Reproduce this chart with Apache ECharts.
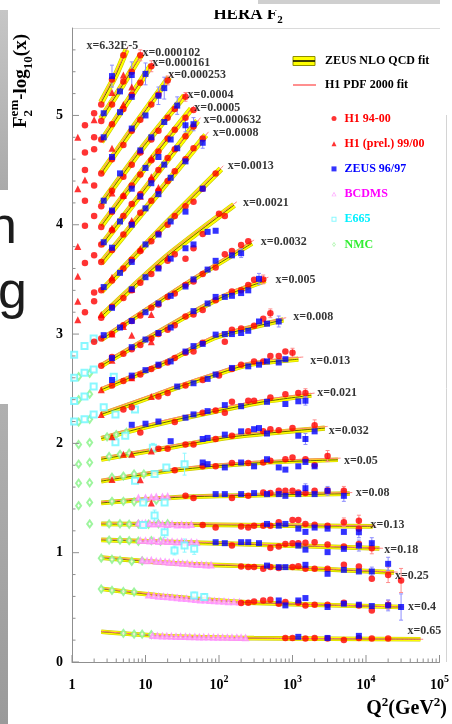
<!DOCTYPE html>
<html>
<head>
<meta charset="utf-8">
<script src="https://cdn.jsdelivr.net/npm/echarts@6/dist/echarts.min.js"></script>
<style>
html, body { margin: 0; padding: 0; background: #ffffff; }
#chart { width: 452px; height: 724px; }
</style>
</head>
<body>
<div id="chart"></div>
<script>
// ---- x bins (Bjorken x) of the structure-function curves ----
const xBins = ['6.32E-5', '0.000102', '0.000161', '0.000253', '0.0004', '0.0005', '0.000632', '0.0008',
  '0.0013', '0.0021', '0.0032', '0.005', '0.008', '0.013', '0.021', '0.032', '0.05', '0.08',
  '0.13', '0.18', '0.25', '0.4', '0.65'];

// ---- ZEUS NLO QCD fit, one curve per x bin: [Q2, F2 - log10(x)] ----
const zeusFit = [
  [[2.5, 5.12], [4, 5.38], [5.5, 5.60]],
  [[2.5, 4.97], [5, 5.29], [8.8, 5.56]],
  [[2.5, 4.76], [5, 5.07], [12, 5.46]],
  [[2.5, 4.47], [7, 4.90], [21, 5.35]],
  [[2.5, 4.19], [9, 4.70], [34, 5.18]],
  [[2.5, 3.99], [10, 4.53], [42, 5.06]],
  [[2.5, 3.81], [11, 4.37], [51, 4.95]],
  [[2.5, 3.65], [13, 4.24], [66, 4.82]],
  [[2.5, 3.39], [15, 3.94], [106, 4.51]],
  [[2.5, 3.16], [18, 3.69], [160, 4.18]],
  [[2.5, 2.95], [40, 3.48], [280, 3.83]],
  [[2.5, 2.71], [90, 3.31], [430, 3.49]],
  [[2.5, 2.49], [20, 2.75], [90, 2.97], [750, 3.13]],
  [[2.5, 2.265], [12.5, 2.43], [32, 2.53], [90, 2.63], [250, 2.72], [1200, 2.77]],
  [[2.5, 2.044], [10, 2.15], [60, 2.27], [400, 2.38], [1800, 2.44]],
  [[2.5, 1.855], [20, 1.96], [150, 2.06], [2750, 2.14]],
  [[2.5, 1.655], [25, 1.755], [300, 1.82], [4150, 1.85]],
  [[2.5, 1.455], [35, 1.51], [6000, 1.54]],
  [[2.5, 1.263], [100, 1.255], [12300, 1.24]],
  [[2.5, 1.117], [100, 1.085], [15200, 1.04]],
  [[2.5, 0.955], [30, 0.90], [500, 0.87], [24000, 0.82]],
  [[2.5, 0.670], [20, 0.60], [150, 0.553], [1000, 0.53], [30000, 0.503]],
  [[2.5, 0.277], [20, 0.235], [300, 0.218], [55000, 0.208]]
];

// ---- H1 PDF 2000 fit, one curve per x bin ----
const h1Fit = [
  [[2.5, 5.14], [4, 5.40], [5.8, 5.63]],
  [[2.5, 4.99], [5, 5.31], [9.5, 5.59]],
  [[2.5, 4.78], [5, 5.09], [13, 5.49]],
  [[2.5, 4.49], [7, 4.92], [23, 5.38]],
  [[2.5, 4.21], [9, 4.72], [37, 5.21]],
  [[2.5, 4.01], [10, 4.55], [46, 5.09]],
  [[2.5, 3.83], [11, 4.39], [56, 4.98]],
  [[2.5, 3.67], [13, 4.26], [72, 4.85]],
  [[2.5, 3.41], [15, 3.96], [115, 4.54]],
  [[2.5, 3.18], [18, 3.71], [175, 4.21]],
  [[2.5, 2.97], [40, 3.50], [300, 3.86]],
  [[2.5, 2.73], [90, 3.33], [470, 3.52]],
  [[2.5, 2.51], [20, 2.77], [90, 2.99], [820, 3.15]],
  [[2.5, 2.28], [12.5, 2.45], [32, 2.55], [90, 2.65], [250, 2.74], [1400, 2.79]],
  [[2.5, 2.06], [10, 2.17], [60, 2.29], [400, 2.40], [2000, 2.46]],
  [[2.5, 1.87], [20, 1.975], [150, 2.075], [3000, 2.155]],
  [[2.5, 1.67], [25, 1.77], [300, 1.835], [4500, 1.865]],
  [[2.5, 1.465], [35, 1.52], [6500, 1.55]],
  [[2.5, 1.27], [100, 1.262], [13500, 1.245]],
  [[2.5, 1.125], [100, 1.09], [17000, 1.04]],
  [[2.5, 0.962], [30, 0.905], [500, 0.875], [27000, 0.822]],
  [[2.5, 0.675], [20, 0.605], [150, 0.556], [1000, 0.532], [33000, 0.503]],
  [[2.5, 0.28], [20, 0.237], [300, 0.219], [60000, 0.208]]
];

// ---- measurements: [Q2, F2 - log10(x), error (optional)] ----
const h1Points = [
  [1.5, 4.91], [2, 5.02], [2.5, 5.10], [3.5, 5.33], [5, 5.55],
  [1.5, 4.66], [2, 4.80], [2.5, 4.95], [3.5, 5.10], [5, 5.31], [6.5, 5.40], [8.5, 5.55, 0.05],
  [1.5, 4.50], [2, 4.69], [2.5, 4.78], [3.5, 4.92], [5, 5.06], [6.5, 5.19], [8.5, 5.30], [12, 5.45, 0.05],
  [1.5, 4.22], [2, 4.36], [2.5, 4.47], [3.5, 4.60], [5, 4.73], [6.5, 4.86], [8.5, 4.96], [12, 5.10], [15, 5.19], [20, 5.32, 0.04],
  [2, 4.08], [2.5, 4.17], [3.5, 4.31], [5, 4.44], [6.5, 4.55], [8.5, 4.66], [12, 4.78], [15, 4.86], [20, 4.98], [25, 5.06], [35, 5.17, 0.04],
  [1.5, 3.99], [2.5, 3.98], [3.5, 4.12], [5, 4.26], [6.5, 4.36], [8.5, 4.46], [12, 4.59], [15, 4.67], [20, 4.79], [25, 4.87], [35, 4.98], [45, 5.05],
  [2, 3.72], [2.5, 3.82], [3.5, 3.95], [5, 4.08], [6.5, 4.19], [8.5, 4.28], [12, 4.41], [15, 4.50], [20, 4.61], [25, 4.69], [35, 4.81], [45, 4.90],
  [1.5, 3.65], [2.5, 3.66], [3.5, 3.77], [5, 3.91], [6.5, 4.01], [8.5, 4.11], [12, 4.22], [15, 4.31], [20, 4.40], [25, 4.49], [35, 4.60], [45, 4.70], [60, 4.79],
  [2, 3.38], [2.5, 3.40], [3.5, 3.49], [5, 3.60], [6.5, 3.68], [8.5, 3.76], [12, 3.85], [15, 3.92], [20, 4.00], [25, 4.08], [35, 4.17], [45, 4.21], [60, 4.33], [90, 4.47],
  [1.5, 3.20], [2, 3.30], [2.5, 3.15], [3.5, 3.25], [5, 3.33], [6.5, 3.40], [8.5, 3.47], [12, 3.55], [15, 3.61], [20, 3.67], [25, 3.73], [35, 3.69], [45, 3.785], [60, 3.915], [100, 4.10], [120, 4.08],
  [2, 2.93], [2.5, 2.96], [3.5, 3.00], [5, 3.08], [6.5, 3.12], [8.5, 3.17], [12, 3.24], [15, 3.27], [20, 3.34], [25, 3.37], [35, 3.45], [45, 3.48], [60, 3.55], [90, 3.61], [120, 3.73], [150, 3.76], [200, 3.815], [250, 3.85],
  [2.5, 2.71], [3.5, 2.79], [5, 2.82], [6.5, 2.86], [8.5, 2.90], [12, 2.96], [15, 3.00], [20, 3.04], [25, 3.08], [35, 3.16], [45, 3.18], [60, 3.22], [90, 3.31], [150, 3.39], [200, 3.40], [250, 3.45], [300, 3.496], [400, 3.50, 0.04],
  [3.5, 2.53], [5, 2.57], [6.5, 2.60], [8.5, 2.63], [12, 2.68], [15, 2.71], [20, 2.74], [25, 2.78], [35, 2.83], [45, 2.84], [60, 2.92], [120, 2.93], [150, 3.04], [200, 3.05], [300, 3.075], [400, 3.14], [500, 3.19, 0.04],
  [5, 2.31], [6.5, 2.33], [15, 2.43], [20, 2.46], [35, 2.53], [60, 2.58], [100, 2.62], [150, 2.68], [200, 2.72], [300, 2.75], [400, 2.75], [500, 2.80], [650, 2.80], [800, 2.84], [1000, 2.83, 0.04],
  [8.5, 2.10], [25, 2.195], [60, 2.28], [90, 2.30], [120, 2.28], [150, 2.38], [250, 2.39], [300, 2.39], [500, 2.42], [800, 2.45], [1200, 2.46], [1500, 2.46, 0.04],
  [15, 1.95], [20, 1.95], [35, 1.99], [45, 1.99], [90, 2.04], [150, 2.07], [250, 2.11], [400, 2.11], [500, 2.13], [650, 2.12], [1000, 2.14], [2000, 2.165, 0.05],
  [25, 1.755], [60, 1.79], [90, 1.79], [150, 1.82], [250, 1.82], [400, 1.825], [500, 1.84], [800, 1.855], [1000, 1.87], [1500, 1.855], [2000, 1.80], [3000, 1.885, 0.05],
  [35, 1.52], [45, 1.50], [150, 1.50], [250, 1.52], [400, 1.55], [500, 1.545], [650, 1.566], [800, 1.566], [1000, 1.566], [1200, 1.55], [1500, 1.545], [2000, 1.566], [3000, 1.566, 0.03], [5000, 1.566, 0.04],
  [60, 1.253], [90, 1.23], [200, 1.24], [250, 1.23], [300, 1.247], [400, 1.247], [500, 1.247], [650, 1.278], [1000, 1.30], [1200, 1.30], [1500, 1.263], [2000, 1.256], [3000, 1.247], [5000, 1.278, 0.04], [8000, 1.293, 0.05], [8000, 1.22],
  [150, 1.065], [500, 1.044], [650, 1.056], [800, 1.08], [1000, 1.087], [1200, 1.087], [1500, 1.09], [2000, 1.096], [3000, 1.074], [5000, 1.056], [8000, 1.08], [12000, 1.04, 0.05],
  [200, 0.873], [250, 0.868], [300, 0.868], [400, 0.852], [500, 0.868], [650, 0.859], [1000, 0.868], [1200, 0.877], [1500, 0.852], [2000, 0.852], [3000, 0.852], [5000, 0.89], [8000, 0.873], [12000, 0.761], [20000, 0.797, 0.07], [30000, 0.746, 0.11],
  [200, 0.54], [250, 0.542], [300, 0.554], [400, 0.563], [500, 0.57], [650, 0.533], [800, 0.549], [1200, 0.542], [1500, 0.518], [2000, 0.524], [3000, 0.524], [5000, 0.542], [8000, 0.518], [12000, 0.472], [20000, 0.524, 0.04],
  [800, 0.22], [1000, 0.22], [1500, 0.214], [2000, 0.22], [3000, 0.214], [5000, 0.202], [8000, 0.22], [12000, 0.214], [20000, 0.214]
];

const h1PrelPoints = [
  [1.2, 4.80], [1.2, 4.33], [1.2, 3.80], [1.2, 3.53], [1.2, 3.30], [1.2, 3.13],
  [2, 4.96], [1.5, 4.41], [3.5, 5.21], [5, 5.37], [6.5, 5.26], [5, 5.10], [3.5, 4.70], [12, 4.44],
  [3.5, 4.29], [8.5, 4.68], [5, 4.27], [12, 4.61], [3.5, 3.97], [8.5, 4.26], [6.5, 4.04], [15, 4.34],
  [3.5, 3.52], [8.5, 3.78], [2.5, 3.18], [6.5, 3.41], [20, 3.70], [3.5, 3.00], [5, 3.07], [12, 3.18],
  [3.5, 2.76], [12, 2.93], [6.5, 2.99], [2.5, 2.49], [6.5, 2.60], [2.5, 2.265], [12, 2.43], [3.5, 2.06],
  [5, 1.90], [6.5, 1.90], [12, 1.93], [3.5, 1.67], [8.5, 1.667], [12, 1.454]
];

const zeusPoints = [
  [3.5, 5.36, 0.1],
  [2.7, 5.02], [4.5, 5.22], [6.5, 5.37, 0.12],
  [2.7, 4.80], [4.5, 5.03], [6.5, 5.17], [10, 5.38, 0.1],
  [3.5, 4.62], [6.5, 4.88], [10, 5.00], [15, 5.18, 0.08], [18, 5.25, 0.1],
  [2.7, 4.22], [4.5, 4.47], [8.5, 4.68], [12, 4.80], [18, 4.94], [27, 5.09, 0.08],
  [3.5, 4.13], [6.5, 4.33], [10, 4.52], [15, 4.62], [22, 4.78], [35, 4.91, 0.06],
  [2.7, 3.84], [4.5, 4.03], [8.5, 4.26], [12, 4.38], [18, 4.55], [27, 4.70], [45, 4.92, 0.06],
  [3.5, 3.79], [6.5, 4.00], [10, 4.15], [15, 4.28], [22, 4.43], [35, 4.58], [60, 4.75, 0.05],
  [2.7, 3.43], [4.5, 3.56], [6.5, 3.66], [10, 3.82], [15, 3.91], [22, 4.03], [35, 4.12], [60, 4.33],
  [3.5, 3.24], [6.5, 3.41], [10, 3.52], [15, 3.60], [22, 3.69], [35, 3.785], [45, 3.82], [70, 3.935], [90, 3.945],
  [2.7, 2.99], [4.5, 3.06], [6.5, 3.12], [10, 3.20], [15, 3.28], [22, 3.35], [35, 3.435], [45, 3.50], [70, 3.59], [90, 3.67], [150, 3.72], [200, 3.74, 0.04],
  [3.5, 2.78], [6.5, 2.88], [10, 2.95], [15, 3.01], [22, 3.06], [45, 3.21], [70, 3.28], [90, 3.34], [120, 3.34], [150, 3.35], [200, 3.375], [250, 3.40], [350, 3.505, 0.05],
  [3.5, 2.58], [6.5, 2.62], [10, 2.67], [15, 2.72], [22, 2.75], [35, 2.84], [45, 2.89], [60, 2.91], [90, 2.995], [120, 3.0], [150, 3.0], [200, 3.01], [250, 3.03], [350, 3.115], [450, 3.095], [650, 3.115, 0.05],
  [27, 2.52], [45, 2.55], [70, 2.59], [90, 2.63], [150, 2.69], [250, 2.705], [350, 2.72], [450, 2.75], [650, 2.74], [800, 2.77],
  [6.5, 2.17], [10, 2.18], [15, 2.20], [35, 2.235], [45, 2.265], [70, 2.295], [120, 2.35], [200, 2.34], [450, 2.38], [800, 2.36], [1200, 2.385], [1500, 2.39, 0.04],
  [22, 2.02], [60, 2.04], [70, 2.05], [120, 2.08], [200, 2.11], [300, 2.13], [350, 2.14], [450, 2.09], [1200, 2.07], [1500, 2.04, 0.05], [2000, 2.11],
  [60, 1.825], [70, 1.81], [120, 1.78], [200, 1.825], [300, 1.79], [450, 1.855], [650, 1.78], [800, 1.76], [1200, 1.79], [1500, 1.83], [2000, 1.79],
  [90, 1.536], [120, 1.536], [200, 1.536], [300, 1.545], [450, 1.536], [650, 1.536], [800, 1.52], [1200, 1.536], [1500, 1.59, 0.04], [2000, 1.536], [3000, 1.566, 0.04], [5000, 1.52, 0.05],
  [450, 1.263], [650, 1.247], [800, 1.263], [1200, 1.22], [1500, 1.19], [2000, 1.23], [3000, 1.22], [5000, 1.19], [8000, 1.187, 0.05],
  [90, 1.096], [120, 1.087], [200, 1.096], [250, 1.096], [350, 1.087], [1200, 1.065], [1500, 1.028], [3000, 1.005], [5000, 1.035], [8000, 1.065, 0.05], [12000, 1.087, 0.05],
  [450, 0.882], [650, 0.868], [800, 0.868], [1500, 0.889], [3000, 0.807], [5000, 0.843], [8000, 0.828], [12000, 0.828, 0.04], [20000, 0.898, 0.06],
  [650, 0.563], [800, 0.518], [1200, 0.563], [1500, 0.585], [3000, 0.503], [5000, 0.533], [8000, 0.524], [12000, 0.512], [20000, 0.518, 0.05], [30000, 0.503, 0.12],
  [1200, 0.23], [3000, 0.22], [8000, 0.239]
];

const bcdmsPoints = [
  [8, 1.50], [10, 1.50], [12, 1.505], [14, 1.51], [17, 1.51], [20, 1.515],
  [8, 1.27], [9, 1.265], [10, 1.27], [11.5, 1.265], [13, 1.26], [15, 1.265], [17, 1.26], [20, 1.255], [23, 1.26], [27, 1.25], [31, 1.255], [36, 1.25], [42, 1.255],
  [8.5, 1.11], [10, 1.11], [11.5, 1.105], [13, 1.11], [15, 1.10], [17.5, 1.105], [20, 1.10], [23, 1.10], [27, 1.095], [31, 1.10], [36, 1.09], [42, 1.095], [50, 1.09],
  [9, 0.93], [10.5, 0.925], [12, 0.93], [14, 0.92], [16, 0.92], [18.5, 0.915], [21, 0.91], [24, 0.91], [28, 0.905], [32, 0.90], [37, 0.90], [43, 0.895], [50, 0.89], [58, 0.89], [67, 0.885], [78, 0.885],
  [11, 0.61], [13, 0.605], [15, 0.60], [17.5, 0.598], [20, 0.595], [23, 0.59], [27, 0.585], [31, 0.58], [36, 0.578], [42, 0.575], [48, 0.57], [56, 0.565], [65, 0.565], [75, 0.56], [87, 0.558], [100, 0.555], [117, 0.553], [135, 0.55], [160, 0.548], [190, 0.547],
  [12.5, 0.24], [14.5, 0.238], [17, 0.236], [19.5, 0.235], [22.5, 0.234], [26, 0.232], [30, 0.232], [35, 0.23], [40, 0.229], [47, 0.228], [54, 0.227], [62, 0.226], [72, 0.226], [84, 0.225], [97, 0.224], [112, 0.223], [130, 0.223], [150, 0.222], [175, 0.222], [200, 0.221], [230, 0.22]
];

const e665Points = [
  [1.07, 2.81], [1.48, 2.89], [1.97, 2.96],
  [1.07, 2.60], [1.48, 2.645], [1.97, 2.675], [3.7, 2.61],
  [1.07, 2.387], [1.48, 2.43], [1.97, 2.52], [2.7, 2.33],
  [1.07, 2.20], [1.48, 2.22], [1.97, 2.265], [3.9, 2.265], [7.2, 2.31],
  [3.9, 2.01], [5.3, 2.07], [7.2, 1.657],
  [12.6, 1.96, 0.04], [13.3, 1.72], [19.2, 1.78], [34, 1.81, 0.1],
  [9.3, 1.46], [18.2, 1.46],
  [13.3, 1.34, 0.05], [18.2, 1.187, 0.05], [24.8, 1.02, 0.04], [34, 1.065, 0.06], [46, 1.035, 0.05], [9.3, 1.253],
  [46, 0.609, 0.03], [63, 0.594, 0.03]
];

const nmcPoints = [
  [1.23, 2.61], [1.74, 2.64], [1.23, 2.40], [1.74, 2.45], [1.23, 2.195], [1.74, 2.22],
  [1.23, 1.99], [1.74, 2.007], [3, 2.06], [4, 2.08], [5.5, 2.10],
  [1.23, 1.81], [1.74, 1.825], [3.2, 1.88], [4.5, 1.90], [6, 1.91],
  [1.23, 1.636], [1.74, 1.64], [3.5, 1.69], [5, 1.70], [7, 1.72], [9.5, 1.72],
  [1.23, 1.43], [1.74, 1.46], [3.5, 1.47], [5, 1.47], [7, 1.465], [10, 1.48], [14, 1.48],
  [1.74, 1.263], [3.2, 1.263], [4.5, 1.265], [6, 1.26], [8, 1.262], [11, 1.26], [15, 1.265], [20, 1.265],
  [3.2, 1.115], [4.5, 1.115], [6, 1.11], [8, 1.105], [12, 1.11], [16, 1.105],
  [2.5, 0.95], [3.5, 0.94], [4.5, 0.93], [6.5, 0.92], [9, 0.925],
  [2.5, 0.668], [3.5, 0.655], [5, 0.645], [7, 0.64],
  [5, 0.262], [7, 0.255], [9, 0.255], [12, 0.25]
];

// axis tick labels
const xDecades = [1, 10, 100, 1000, 10000, 100000];
const yMajor = [0, 1, 2, 3, 4, 5];

// nudges of the "x=..." captions relative to the end of each fit curve
const labelShift = [[-44, -4], [-3, -1], [-3, -2], [-5, -2], [-1, -1], [-1, -1], [2, -1], [3, -2], [3, -3], [5, -2],
  [5, -1], [6, -1], [6, -3], [8, 2], [2, -2], [0, 3], [2, 1], [2, -1], [-6, -2], [1, 2], [-3, 4], [3, 0], [-17, -8]];

// hollow legend glyphs (outer outline minus inner outline)
const ICON_HOLLOW_TRIANGLE = 'path://M5,0L10,9L0,9Z M5,2.6L1.9,7.9L8.1,7.9Z';
const ICON_HOLLOW_SQUARE = 'path://M0,0H10V10H0Z M2,2V8H8V2Z';
const ICON_HOLLOW_DIAMOND = 'path://M5,0L10,7L5,14L0,7Z M5,2.6L2.1,7L5,11.4L7.9,7Z';

const SERIF = 'Liberation Serif';
const mctx = document.createElement('canvas').getContext('2d');
function textW(str, size) {
  mctx.font = 'bold ' + size + "px '" + SERIF + "'";
  return mctx.measureText(str).width;
}
// lay out a row of text pieces (baseline at local y = 0); pieces may shift the baseline (dy) and may not advance
function textRun(pieces) {
  let x = 0;
  const els = [];
  pieces.forEach(function (p) {
    els.push({
      type: 'text', x: x, y: (p.dy || 0) - 0.34 * p.s,
      style: { text: p.t, font: 'bold ' + p.s + "px '" + SERIF + "'", fill: p.fill || '#000', align: 'left', verticalAlign: 'middle' }
    });
    x += (p.adv !== undefined) ? p.adv : textW(p.t, p.s);
  });
  return { els: els, width: x };
}

const series = [];

// fit curves
zeusFit.forEach(function (pts, i) {
  const w = i < 10 ? 5 : (i < 16 ? 4 : 3.5);
  const base = { type: 'line', name: 'ZEUS NLO QCD fit', data: pts, symbol: 'none', showSymbol: false, smooth: 0.25, silent: true, animation: false };
  series.push(Object.assign({}, base, { lineStyle: { color: '#c9c900', width: w + 1.2 }, z: 1 }));
  series.push(Object.assign({}, base, { lineStyle: { color: '#ffff00', width: w }, z: 2 }));
  series.push(Object.assign({}, base, { lineStyle: { color: '#505000', width: 0.9 }, z: 3 }));
});
h1Fit.forEach(function (pts) {
  series.push({ type: 'line', name: 'H1 PDF 2000 fit', data: pts, symbol: 'none', showSymbol: false, smooth: 0.25, silent: true, animation: false,
    lineStyle: { color: '#ff7b7b', width: 1 }, z: 4 });
});

// error bars
function errSeries(points, color, z) {
  return {
    type: 'custom', silent: true, z: z, animation: false,
    data: points.filter(function (p) { return p.length > 2; }),
    encode: { x: 0, y: 1 },
    renderItem: function (params, api) {
      const x = api.value(0), y = api.value(1), e = api.value(2);
      const t = api.coord([x, y + e]), b = api.coord([x, y - e]);
      const st = { stroke: color, lineWidth: 1 };
      return { type: 'group', children: [
        { type: 'line', shape: { x1: t[0], y1: t[1], x2: b[0], y2: b[1] }, style: st },
        { type: 'line', shape: { x1: t[0] - 2, y1: t[1], x2: t[0] + 2, y2: t[1] }, style: st },
        { type: 'line', shape: { x1: b[0] - 2, y1: b[1], x2: b[0] + 2, y2: b[1] }, style: st }
      ] };
    }
  };
}
series.push(errSeries(e665Points, '#8ff8ff', 5));
series.push(errSeries(h1Points, '#ff8c8c', 6));
series.push(errSeries(zeusPoints, '#8c8cff', 6));

// data points
series.push({ type: 'scatter', name: 'NMC', data: nmcPoints, symbol: 'emptyDiamond', symbolSize: [5, 7], itemStyle: { color: '#86f286', borderWidth: 0.7 }, z: 5, animation: false });
series.push({ type: 'scatter', name: 'BCDMS', data: bcdmsPoints, symbol: 'emptyTriangle', symbolSize: 4.5, itemStyle: { color: '#ff8cff', borderWidth: 0.6 }, z: 5, animation: false });
series.push({ type: 'scatter', name: 'E665', data: e665Points, symbol: 'emptyRect', symbolSize: 6, itemStyle: { color: '#6cf6ff', borderWidth: 0.8 }, z: 5, animation: false });
series.push({ type: 'scatter', name: 'H1 94-00', data: h1Points, symbol: 'circle', symbolSize: 6.5, itemStyle: { color: '#ff0000' }, z: 7, animation: false });
series.push({ type: 'scatter', name: 'H1 (prel.) 99/00', data: h1PrelPoints, symbol: 'triangle', symbolSize: 7, itemStyle: { color: '#ff0000' }, z: 7, animation: false });
series.push({ type: 'scatter', name: 'ZEUS 96/97', data: zeusPoints, symbol: 'rect', symbolSize: 6, itemStyle: { color: '#0000ff' }, z: 8, animation: false });

// "x=..." captions at the end of each ZEUS fit curve
series.push({
  type: 'scatter', silent: true, z: 9, animation: false, symbolSize: 0,
  data: zeusFit.map(function (pts, i) {
    return { value: pts[pts.length - 1], label: { formatter: 'x=' + xBins[i], offset: labelShift[i] } };
  }),
  label: { show: true, position: 'right', distance: 4, fontFamily: SERIF, fontWeight: 'bold', fontSize: 12, color: '#000' }
});

// axis ticks drawn inward (decade ticks and 2..9 minor ticks on the log axis)
const xTickData = [];
xDecades.forEach(function (d, k) {
  xTickData.push([d, 0, 7]);
  if (k < xDecades.length - 1) for (let m = 2; m <= 9; m++) xTickData.push([m * d, 0, 3.5]);
});
const yTickData = [];
for (let k = 0; k <= 28; k++) yTickData.push([1, Math.round(k * 2) / 10, (k % 5 === 0) ? 7 : 3.5]);
series.push({
  type: 'custom', silent: true, z: 10, animation: false, data: xTickData, encode: { x: 0, y: 1 },
  renderItem: function (params, api) {
    const p = api.coord([api.value(0), api.value(1)]);
    return { type: 'line', shape: { x1: p[0], y1: p[1], x2: p[0], y2: p[1] - api.value(2) }, style: { stroke: '#8f8f8f', lineWidth: 1 } };
  }
});
series.push({
  type: 'custom', silent: true, z: 10, animation: false, data: yTickData, encode: { x: 0, y: 1 },
  renderItem: function (params, api) {
    const p = api.coord([api.value(0), api.value(1)]);
    return { type: 'line', shape: { x1: p[0], y1: p[1], x2: p[0] + api.value(2), y2: p[1] }, style: { stroke: '#8f8f8f', lineWidth: 1 } };
  }
});

// titles built from measured text runs
const titleRun = textRun([{ t: 'HERA F', s: 17 }, { t: '2', s: 11, dy: 4 }]);
const yName = textRun([
  { t: 'F', s: 19 },
  { t: '2', s: 13, dy: 5, adv: 0 },
  { t: 'em', s: 13, dy: -9 },
  { t: '-log', s: 19 },
  { t: '10', s: 13, dy: 5 },
  { t: '(x)', s: 19 }
]);
const xName = textRun([{ t: 'Q', s: 20 }, { t: '2', s: 13, dy: -9 }, { t: '(GeV', s: 20 }, { t: '2', s: 13, dy: -9 }, { t: ')', s: 20 }]);

const graphic = [
  // slide remnants around the figure
  { type: 'rect', shape: { x: 0, y: 10, width: 8, height: 180 }, style: { fill: new echarts.graphic.LinearGradient(0, 0, 0, 1, [{ offset: 0, color: '#c6c6c6' }, { offset: 1, color: '#aaaaaa' }]) }, z: -5 },
  { type: 'rect', shape: { x: 0, y: 404, width: 8, height: 320 }, style: { fill: new echarts.graphic.LinearGradient(0, 0, 0, 1, [{ offset: 0, color: '#b0b0b0' }, { offset: 1, color: '#9a9a9a' }]) }, z: -5 },
  { type: 'text', x: 17, y: 247 - 0.35 * 52, style: { text: 'n', font: "52px 'Liberation Sans'", fill: '#1c1c1c', align: 'right', verticalAlign: 'middle' }, z: -4 },
  { type: 'text', x: 27, y: 312 - 0.35 * 52, style: { text: 'g', font: "52px 'Liberation Sans'", fill: '#1c1c1c', align: 'right', verticalAlign: 'middle' }, z: -4 },
  { type: 'line', shape: { x1: 72, y1: 28.5, x2: 440, y2: 28.5 }, style: { stroke: '#dadada', lineWidth: 1 }, z: -3 },
  { type: 'line', shape: { x1: 446.5, y1: 115, x2: 446.5, y2: 662 }, style: { stroke: '#d4d4d4', lineWidth: 1 }, z: -3 },
  // title
  { type: 'group', x: 248 - titleRun.width / 2, y: 20, children: titleRun.els, z: 20 },
  { type: 'rect', shape: { x: 200, y: 0, width: 100, height: 10 }, style: { fill: '#ffffff' }, z: 21 },
  { type: 'rect', shape: { x: 258, y: 0, width: 182, height: 4 }, style: { fill: '#cfcfcf' }, z: 22 },
  // axis names
  { type: 'group', x: 28, y: 128, rotation: Math.PI / 2, children: yName.els, z: 20 },
  { type: 'group', x: 447 - xName.width, y: 716, children: xName.els, z: 20 },
  // fit legend entries
  { type: 'rect', shape: { x: 293, y: 56.5, width: 22, height: 9 }, style: { fill: '#ffff00', stroke: '#8f8f00', lineWidth: 1 }, z: 20 },
  { type: 'line', shape: { x1: 293, y1: 61, x2: 315, y2: 61 }, style: { stroke: '#000000', lineWidth: 1.5 }, z: 21 },
  { type: 'text', x: 325, y: 61, style: { text: 'ZEUS NLO QCD fit', font: "bold 12px '" + SERIF + "'", fill: '#000', align: 'left', verticalAlign: 'middle' }, z: 20 },
  { type: 'line', shape: { x1: 293, y1: 85, x2: 316, y2: 85 }, style: { stroke: '#ff6a6a', lineWidth: 1.5 }, z: 20 },
  { type: 'text', x: 325, y: 85, style: { text: 'H1 PDF 2000 fit', font: "bold 12px '" + SERIF + "'", fill: '#000', align: 'left', verticalAlign: 'middle' }, z: 20 }
];

const chart = echarts.init(document.getElementById('chart'), null, { renderer: 'canvas' });
chart.setOption({
  animation: false,
  backgroundColor: '#ffffff',
  grid: { left: 72, right: 8, top: 28, bottom: 62, containLabel: false },
  xAxis: {
    type: 'log', logBase: 10, min: 1, max: 100000,
    axisLine: { show: true, lineStyle: { color: '#8f8f8f', width: 1 } },
    axisTick: { show: false }, minorTick: { show: false }, splitLine: { show: false },
    axisLabel: {
      margin: 12, color: '#000',
      formatter: function (v) {
        const e = Math.round(Math.log10(v));
        if (e === 0) return '{p|1}';
        if (e === 1) return '{p|10}';
        return '{b|10}{s|' + e + '}';
      },
      rich: {
        p: { fontSize: 14, fontWeight: 'bold', fontFamily: SERIF, color: '#000', padding: [4, 0, 0, 0] },
        b: { fontSize: 14, fontWeight: 'bold', fontFamily: SERIF, color: '#000', verticalAlign: 'bottom' },
        s: { fontSize: 10, fontWeight: 'bold', fontFamily: SERIF, color: '#000', verticalAlign: 'top', padding: [0, 0, 8, 0] }
      }
    }
  },
  yAxis: {
    type: 'value', min: 0, max: 5.8, interval: 1,
    axisLine: { show: true, lineStyle: { color: '#8f8f8f', width: 1 } },
    axisTick: { show: false }, splitLine: { show: false },
    axisLabel: {
      margin: 9, fontSize: 14, fontWeight: 'bold', fontFamily: SERIF, color: '#000', showMaxLabel: false,
      formatter: function (v) { return yMajor.indexOf(v) >= 0 ? String(v) : ''; }
    }
  },
  legend: {
    orient: 'vertical', left: 331.5, top: 112, padding: 0, itemWidth: 5, itemHeight: 5, itemGap: 12.2,
    selectedMode: false,
    textStyle: { fontFamily: SERIF, fontWeight: 'bold', fontSize: 12, lineHeight: 13, padding: [0, 0, 0, 3] },
    data: [
      { name: 'H1 94-00', icon: 'circle', itemStyle: { color: '#ff0000' }, textStyle: { color: '#ff0000' } },
      { name: 'H1 (prel.) 99/00', icon: 'triangle', itemStyle: { color: '#ff0000' }, textStyle: { color: '#ff0000' } },
      { name: 'ZEUS 96/97', icon: 'rect', itemStyle: { color: '#0000ff' }, textStyle: { color: '#0000ff' } },
      { name: 'BCDMS', icon: ICON_HOLLOW_TRIANGLE, itemStyle: { color: '#ff8cff', borderWidth: 0 }, textStyle: { color: '#ff00ff' } },
      { name: 'E665', icon: ICON_HOLLOW_SQUARE, itemStyle: { color: '#6cf6ff', borderWidth: 0 }, textStyle: { color: '#00f0ff' } },
      { name: 'NMC', icon: ICON_HOLLOW_DIAMOND, itemStyle: { color: '#86f286', borderWidth: 0 }, textStyle: { color: '#33ee33' } }
    ]
  },
  graphic: graphic,
  series: series
});
</script>
</body>
</html>
